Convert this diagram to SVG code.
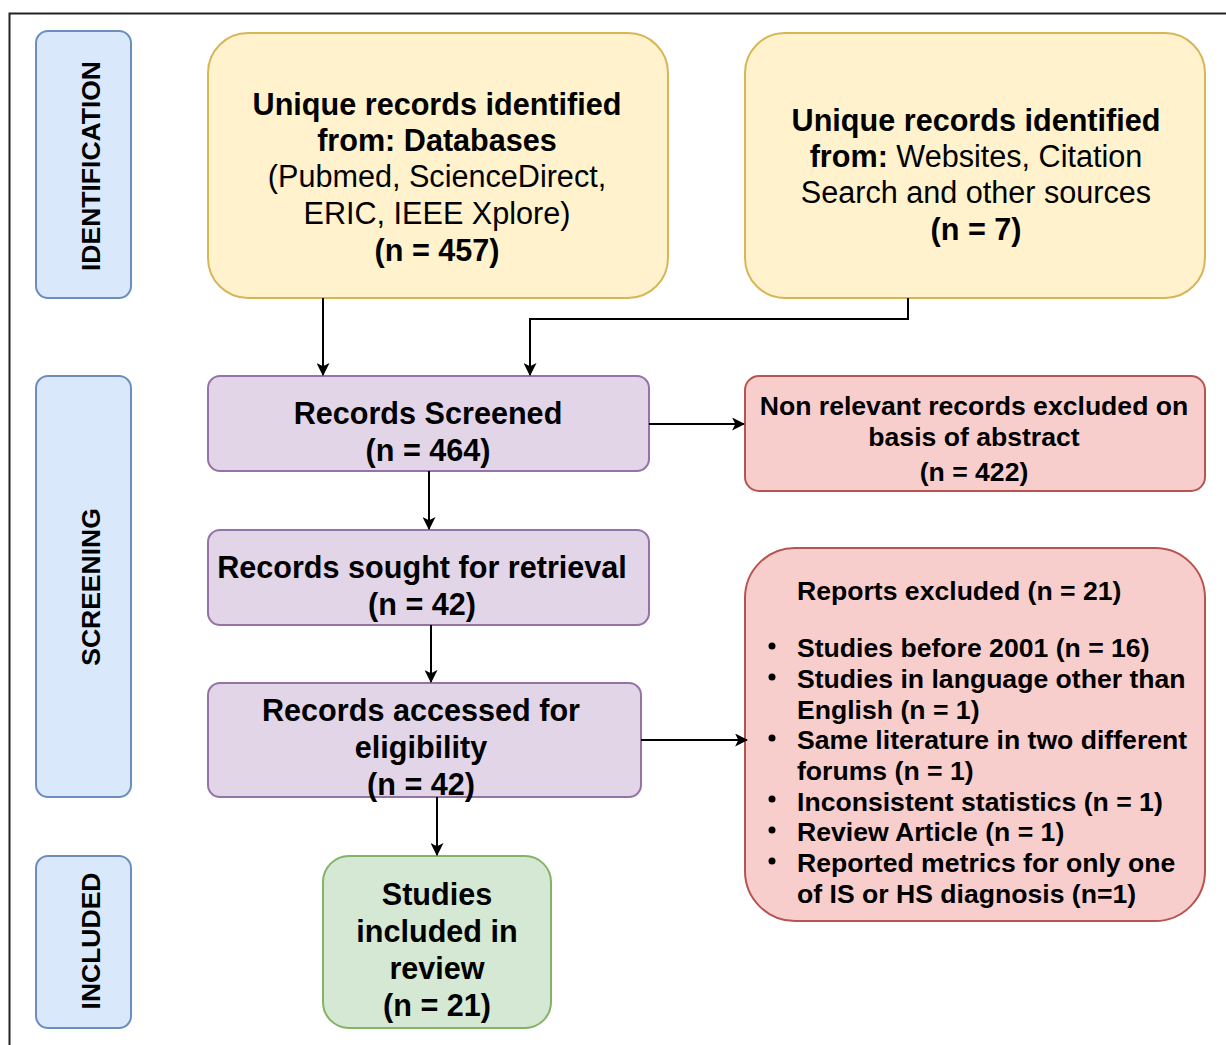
<svg xmlns="http://www.w3.org/2000/svg" width="1226" height="1045" viewBox="0 0 1226 1045">
<style>
text{font-family:"Liberation Sans",Arial,Helvetica,sans-serif;fill:#000}
.b{font-weight:bold}
.n{font-weight:normal}
.t30{font-size:30.6px}
.t26{font-size:26.6px}
.lab{font-size:26.5px;font-weight:bold}
.blue{fill:#dae8fc;stroke:#6c8ebf;stroke-width:2}
.yel{fill:#fff2cc;stroke:#d6b656;stroke-width:2}
.pur{fill:#e1d5e7;stroke:#9673a6;stroke-width:2}
.red{fill:#f8cecc;stroke:#b85450;stroke-width:2}
.grn{fill:#d5e8d4;stroke:#82b366;stroke-width:2}
.edge{fill:none;stroke:#000;stroke-width:2}
</style>
<defs>
<marker id="arr" viewBox="0 0 12 12" refX="11" refY="6" markerWidth="13" markerHeight="13" markerUnits="userSpaceOnUse" orient="auto">
<path d="M0,0 L12,6 L0,12 L3,6 Z" fill="#000"/>
</marker>
</defs>
<rect x="0" y="0" width="1226" height="1045" fill="#fff"/>
<path d="M9.5,1045 L9.5,13.5 L1226,13.5" fill="none" stroke="#222" stroke-width="2"/>

<g id="lbl-identification">
<rect class="blue" x="36" y="31" width="95" height="267" rx="12"/>
<text class="lab" transform="translate(100,166) rotate(-90)" text-anchor="middle">IDENTIFICATION</text>
</g>
<g id="lbl-screening">
<rect class="blue" x="36" y="376" width="95" height="421" rx="12"/>
<text class="lab" transform="translate(100,587) rotate(-90)" text-anchor="middle">SCREENING</text>
</g>
<g id="lbl-included">
<rect class="blue" x="36" y="856" width="95" height="172" rx="12"/>
<text class="lab" transform="translate(100,941) rotate(-90)" text-anchor="middle">INCLUDED</text>
</g>

<g id="db">
<rect class="yel" x="208" y="33" width="460" height="265" rx="40"/>
<text class="t30" text-anchor="middle"><tspan class="b" x="437" y="115">Unique records identified</tspan><tspan class="b" x="437" y="151">from: Databases</tspan><tspan class="n" x="437" y="187">(Pubmed, ScienceDirect,</tspan><tspan class="n" x="437" y="224">ERIC, IEEE Xplore)</tspan><tspan class="b" x="437" y="261">(n = 457)</tspan></text>
</g>

<g id="other">
<rect class="yel" x="745" y="33" width="460" height="265" rx="40"/>
<text class="t30" text-anchor="middle"><tspan class="b" x="976" y="131">Unique records identified</tspan><tspan class="b" x="976" y="167">from:</tspan><tspan class="n"> Websites, Citation</tspan><tspan class="n" x="976" y="203">Search and other sources</tspan><tspan class="b" x="976" y="240">(n = 7)</tspan></text>
</g>

<g id="screened">
<rect class="pur" x="208" y="376" width="441" height="95" rx="12"/>
<text class="t30 b" text-anchor="middle"><tspan x="428" y="424">Records Screened</tspan><tspan x="428" y="461">(n = 464)</tspan></text>
</g>

<g id="nonrel">
<rect class="red" x="745" y="376" width="460" height="115" rx="14"/>
<text class="t26 b" text-anchor="middle"><tspan x="974" y="415">Non relevant records excluded on</tspan><tspan x="974" y="446">basis of abstract</tspan><tspan x="974" y="481">(n = 422)</tspan></text>
</g>

<g id="sought">
<rect class="pur" x="208" y="530" width="441" height="95" rx="12"/>
<text class="t30 b" text-anchor="middle"><tspan x="422" y="578">Records sought for retrieval</tspan><tspan x="422" y="615">(n = 42)</tspan></text>
</g>

<g id="accessed">
<rect class="pur" x="208" y="683" width="433" height="114" rx="12"/>
<text class="t30 b" text-anchor="middle"><tspan x="421" y="721">Records accessed for</tspan><tspan x="421" y="758">eligibility</tspan><tspan x="421" y="795">(n = 42)</tspan></text>
</g>

<g id="reports">
<rect class="red" x="745" y="548" width="460" height="373" rx="50"/>
<text class="t26 b"><tspan x="797" y="600">Reports excluded (n = 21)</tspan><tspan x="797" y="657">Studies before 2001 (n = 16)</tspan><tspan x="797" y="688">Studies in language other than</tspan><tspan x="797" y="719">English (n = 1)</tspan><tspan x="797" y="749">Same literature in two different</tspan><tspan x="797" y="780">forums (n = 1)</tspan><tspan x="797" y="811">Inconsistent statistics (n = 1)</tspan><tspan x="797" y="841">Review Article (n = 1)</tspan><tspan x="797" y="872">Reported metrics for only one</tspan><tspan x="797" y="903">of IS or HS diagnosis (n=1)</tspan></text>
<g fill="#000">
<circle cx="772" cy="646" r="3.5"/>
<circle cx="772" cy="677" r="3.5"/>
<circle cx="772" cy="738" r="3.5"/>
<circle cx="772" cy="799" r="3.5"/>
<circle cx="772" cy="830" r="3.5"/>
<circle cx="772" cy="861" r="3.5"/>
</g>
</g>

<g id="included">
<rect class="grn" x="323" y="856" width="228" height="172" rx="26"/>
<text class="t30 b" text-anchor="middle"><tspan x="437" y="905">Studies</tspan><tspan x="437" y="942">included in</tspan><tspan x="437" y="979">review</tspan><tspan x="437" y="1016">(n = 21)</tspan></text>
</g>

<g id="connectors">
<path class="edge" d="M323,298 L323,375" marker-end="url(#arr)"/>
<path class="edge" d="M908,298 L908,319 L530,319 L530,375" marker-end="url(#arr)"/>
<path class="edge" d="M649,424 L744,424" marker-end="url(#arr)"/>
<path class="edge" d="M429,471 L429,529" marker-end="url(#arr)"/>
<path class="edge" d="M431,625 L431,682" marker-end="url(#arr)"/>
<path class="edge" d="M641,740 L747,740" marker-end="url(#arr)"/>
<path class="edge" d="M437,797 L437,855" marker-end="url(#arr)"/>
</g>
</svg>
